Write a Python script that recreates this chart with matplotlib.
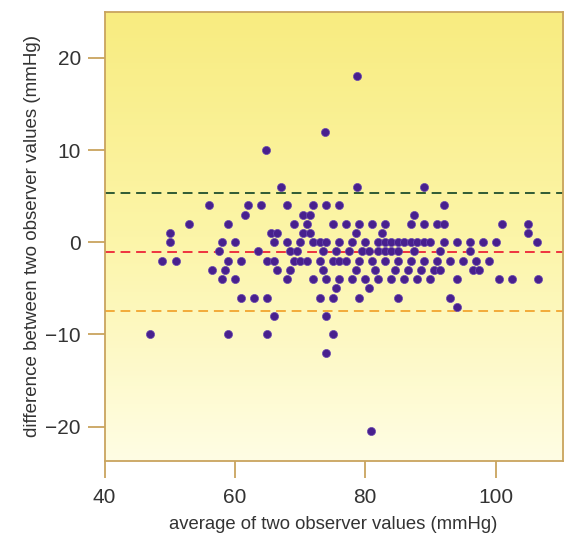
import numpy as np
import matplotlib.pyplot as plt
from matplotlib.colors import LinearSegmentedColormap

plt.rcParams['font.family'] = ['Liberation Sans', 'DejaVu Sans']

# Bland-Altman data, read row by row (difference value -> averages)
rows = {
    18: [78.7],
    12: [73.8],
    10: [64.8],
    6: [67.0, 78.8, 89.0],
    4: [56, 62, 64, 68, 72, 74, 76, 92],
    3: [61.5, 70.5, 71.5, 87.5],
    2: [53, 59, 69, 71, 75, 77, 79, 81, 83, 87, 89, 91, 92, 101, 105],
    1: [50, 65.5, 66.5, 70.5, 71.5, 78.5, 82.5, 105],
    0: [50, 58, 60, 66, 68, 70, 72, 73, 74, 76, 78, 80, 82, 83, 84, 85, 86,
        87, 88, 89, 90, 92, 94, 96, 98, 100, 106.3],
    -1: [57.5, 63.5, 68.5, 69.5, 73.5, 75.5, 77.5, 79.5, 80.5, 82, 83, 84, 85,
         87.5, 91.5, 96],
    -2: [48.8, 50.9, 59, 61, 65, 66, 69, 70, 71, 73, 75, 76, 77, 79, 81, 83,
         85, 87, 89, 91, 93, 95, 97, 99],
    -3: [56.5, 58.5, 66.5, 68.5, 73.5, 78.5, 81.5, 84.5, 86.5, 88.5, 90.5,
         91.5, 96.5, 97.5],
    -4: [58, 60, 68, 72, 74, 76, 78, 80, 82, 84, 86, 88, 90, 94, 100.5,
         102.5, 106.5],
    -5: [75.5, 80.5],
    -6: [61, 63, 65, 73, 75, 79, 85, 93],
    -7: [94],
    -8: [66, 74],
    -10: [47, 59, 65, 75],
    -12: [74],
    -20.5: [80.8],
}
avg = []
diff = []
for d, xs in rows.items():
    for x in xs:
        avg.append(x)
        diff.append(d)

mean_diff = -1.05
upper_loa = 5.35
lower_loa = -7.45

fig = plt.figure(figsize=(5.72, 5.40), dpi=100)
ax = fig.add_axes([0.1827, 0.147, 0.8013, 0.831])

# yellow background gradient
cmap = LinearSegmentedColormap.from_list('bg', ['#fffde4', '#fcf5a8', '#f8ec80'])
grad = np.linspace(0, 1, 256).reshape(-1, 1)
ax.imshow(grad, cmap=cmap, aspect='auto', extent=[0, 1, 0, 1],
          transform=ax.transAxes, origin='lower', zorder=0)

ax.axhline(upper_loa, color='#2f5a34', ls=(0, (5, 3)), lw=1.4, zorder=2)
ax.axhline(mean_diff, color='#ee3340', ls=(0, (5, 3)), lw=1.4, zorder=2)
ax.axhline(lower_loa, color='#f2aa3a', ls=(0, (5, 3)), lw=1.4, zorder=2)

ax.scatter(avg, diff, s=34, color='#48208e', edgecolors='#6a48b0',
           linewidths=0.5, zorder=3)

ax.set_xlim(40, 110.3)
ax.set_ylim(-23.7, 25.0)
ax.set_xticks([40, 60, 80, 100])
ax.set_yticks([-20, -10, 0, 10, 20])

spine_col = '#c9a45e'
for s in ax.spines.values():
    s.set_color(spine_col)
    s.set_linewidth(1.3)
ax.tick_params(direction='out', length=12, width=1.3, color=spine_col,
               labelsize=15, labelcolor='#333333', pad=5)
ax.tick_params(axis='x', pad=8)

ax.set_xlabel('average of two observer values (mmHg)', fontsize=13.3,
              color='#333333', labelpad=6)
ax.set_ylabel('difference between two observer values (mmHg)', fontsize=13.5,
              color='#333333', labelpad=3)

fig.savefig('out.png', dpi=100)
